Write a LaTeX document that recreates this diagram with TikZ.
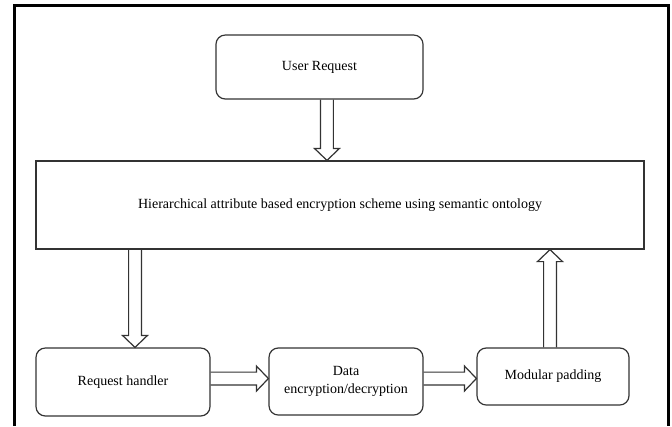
\documentclass[tikz,border=0pt]{standalone}
\usepackage{fontspec}
\setmainfont{Liberation Serif}
\usetikzlibrary{calc, positioning}

\begin{document}
\begin{tikzpicture}[x=.75pt, y=-.75pt,
    box/.style={draw=black!80, line width=.9pt, rounded corners=7pt, align=center, inner sep=0pt, font=\rmfamily\fontsize{10.5}{14}\selectfont},
    flatbox/.style={box, rounded corners=0pt},
    fat/.style={draw=black!80, line width=.9pt, to path={let \p1=(\tikztostart), \p2=(\tikztotarget), \n1={atan2(\y2-\y1,\x2-\x1)} in
        ($(\p1)+(\n1+90:4.8pt)$) -- ($(\p2)+(\n1+180:9pt)+(\n1+90:4.8pt)$) -- ($(\p2)+(\n1+180:9pt)+(\n1+90:9.4pt)$) -- (\p2)
        -- ($(\p2)+(\n1+180:9pt)+(\n1-90:9.4pt)$) -- ($(\p2)+(\n1+180:9pt)+(\n1-90:4.8pt)$) -- ($(\p1)+(\n1-90:4.8pt)$)}}]
\useasboundingbox (0,0) rectangle (672,426);
\draw[line width=2.25pt](14,426)--(14,5.5)--(668,5.5)--(668,426);
% boxes
\node[box, minimum width=155.3pt, minimum height=48pt](user) at (319.5,67){User Request};
\node[flatbox, minimum width=456pt, minimum height=66pt](scheme) at (340,205){Hierarchical attribute based encryption scheme using semantic ontology};
\node[box, minimum width=130.5pt, minimum height=51pt](handler) at (123,382){Request handler};
\node[box, minimum width=115.5pt, minimum height=50.3pt](crypt) at (346,381.5){Data\\encryption/decryption};
\node[box, minimum width=114pt, minimum height=42.8pt](padding) at (553,376.5){Modular padding};
% arrows
\coordinate(u) at ([xshift=5.6pt]user.south);
\coordinate(h) at ([xshift=9pt]handler.north);
\coordinate(p) at ([xshift=-2.25pt]padding.north);
\coordinate(e1) at ([yshift=2.6pt]handler.east);
\coordinate(e2) at ([yshift=2.25pt]crypt.east);
\draw[fat](u) to (u |- scheme.north);
\draw[fat](h |- scheme.south) to (h);
\draw[fat](p) to (p |- scheme.south);
\draw[fat](e1) to (e1 -| crypt.west);
\draw[fat](e2) to (e2 -| padding.west);
\end{tikzpicture}
\end{document}
